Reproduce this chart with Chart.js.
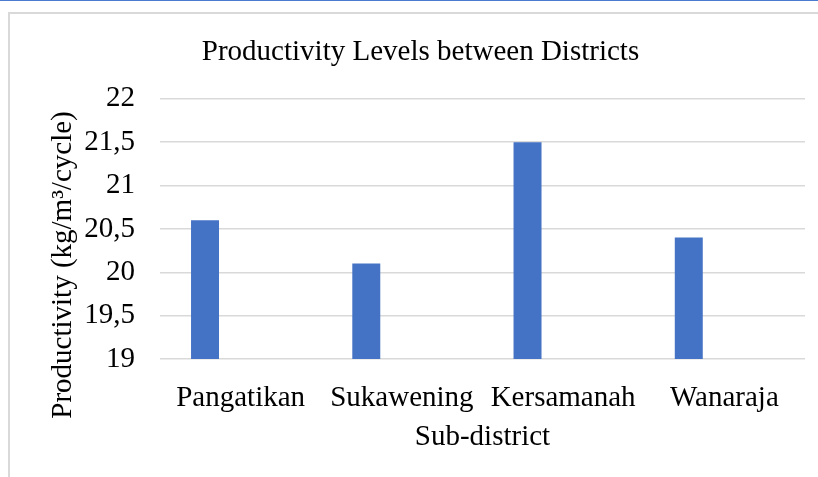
<!DOCTYPE html>
<html>
<head>
<meta charset="utf-8">
<script src="https://cdn.jsdelivr.net/npm/chart.js@4.4.1/dist/chart.umd.min.js"></script>
<style>
  html, body { margin: 0; padding: 0; background: #fff; }
  #wrap { position: relative; width: 818px; height: 477px; overflow: hidden; }
  #topline { position: absolute; left: 0; top: 0; width: 818px; height: 1px; background: #4a7bd0; }
  #frame { position: absolute; left: 8px; top: 12px; width: 830px; height: 480px;
           border-left: 2px solid #d9d9d9; border-top: 2px solid #d9d9d9; }
  #canva { position: absolute; left: 0; top: 0; }
</style>
</head>
<body>
<div id="wrap">
  <div id="topline"></div>
  <div id="frame"></div>
  <canvas id="canva" width="818" height="477"></canvas>
</div>
<script>
const categorias = ["Pangatikan", "Sukawening", "Kersamanah", "Wanaraja"];
const productividad = [20.6, 20.1, 21.5, 20.4];
const vacio = [null, null, null, null];
const yMin = 19;
const yMax = 22;
const yPaso = 0.5;

const fuente = "'Liberation Serif', 'Times New Roman', serif";
const azul = "#4472C4";
const gris = "#d9d9d9";

// titulo del eje y dibujado aparte para poder centrarlo como en el original
const tituloY = {
    id: "tituloY",
    afterDraw(chart) {
        const c = chart.ctx;
        c.save();
        c.translate(63, 265);
        c.rotate(-Math.PI / 2);
        c.font = "29px " + fuente;
        c.fillStyle = "#000";
        c.textAlign = "center";
        c.textBaseline = "middle";
        c.fillText("Productivity (kg/m\u00B3/cycle)", 0, 0);
        c.restore();
    }
};

const ctx = document.getElementById("canva").getContext("2d");
const datax = {
    labels: categorias,
    datasets: [{
        label: "Productivity",
        data: productividad,
        backgroundColor: azul,
        borderWidth: 0,
        categoryPercentage: 0.883,
        barPercentage: 0.393
    }, {
        label: "",
        data: vacio,
        backgroundColor: azul,
        borderWidth: 0,
        categoryPercentage: 0.883,
        barPercentage: 0.393
    }]
};
const config = {
    type: "bar",
    data: datax,
    options: {
        responsive: false,
        animation: false,
        layout: { padding: { top: 0, right: 13, bottom: 0, left: 36 } },
        plugins: {
            legend: { display: false },
            tooltip: { enabled: false },
            title: {
                display: true,
                text: "Productivity Levels between Districts",
                color: "#000",
                font: { family: fuente, size: 29, weight: "normal" },
                padding: { top: 35, bottom: 29 }
            }
        },
        scales: {
            x: {
                grid: { display: false },
                border: { display: false },
                ticks: {
                    color: "#000",
                    font: { family: fuente, size: 29 },
                    padding: 14,
                    maxRotation: 0,
                    autoSkip: false
                },
                title: {
                    display: true,
                    text: "Sub-district",
                    color: "#000",
                    font: { family: fuente, size: 29 },
                    padding: { top: 0, bottom: 22 }
                },
                afterFit(scale) { scale.height = 118; }
            },
            y: {
                min: yMin,
                max: yMax,
                grid: { color: gris, lineWidth: 1.5, drawTicks: false },
                border: { display: false },
                ticks: {
                    stepSize: yPaso,
                    color: "#000",
                    font: { family: fuente, size: 29 },
                    padding: 25,
                    callback: v => v.toString().replace(".", ",")
                },
                afterFit(scale) { scale.width = 124; }
            }
        }
    },
    plugins: [tituloY]
};
const chart = new Chart(ctx, config);
</script>
</body>
</html>
